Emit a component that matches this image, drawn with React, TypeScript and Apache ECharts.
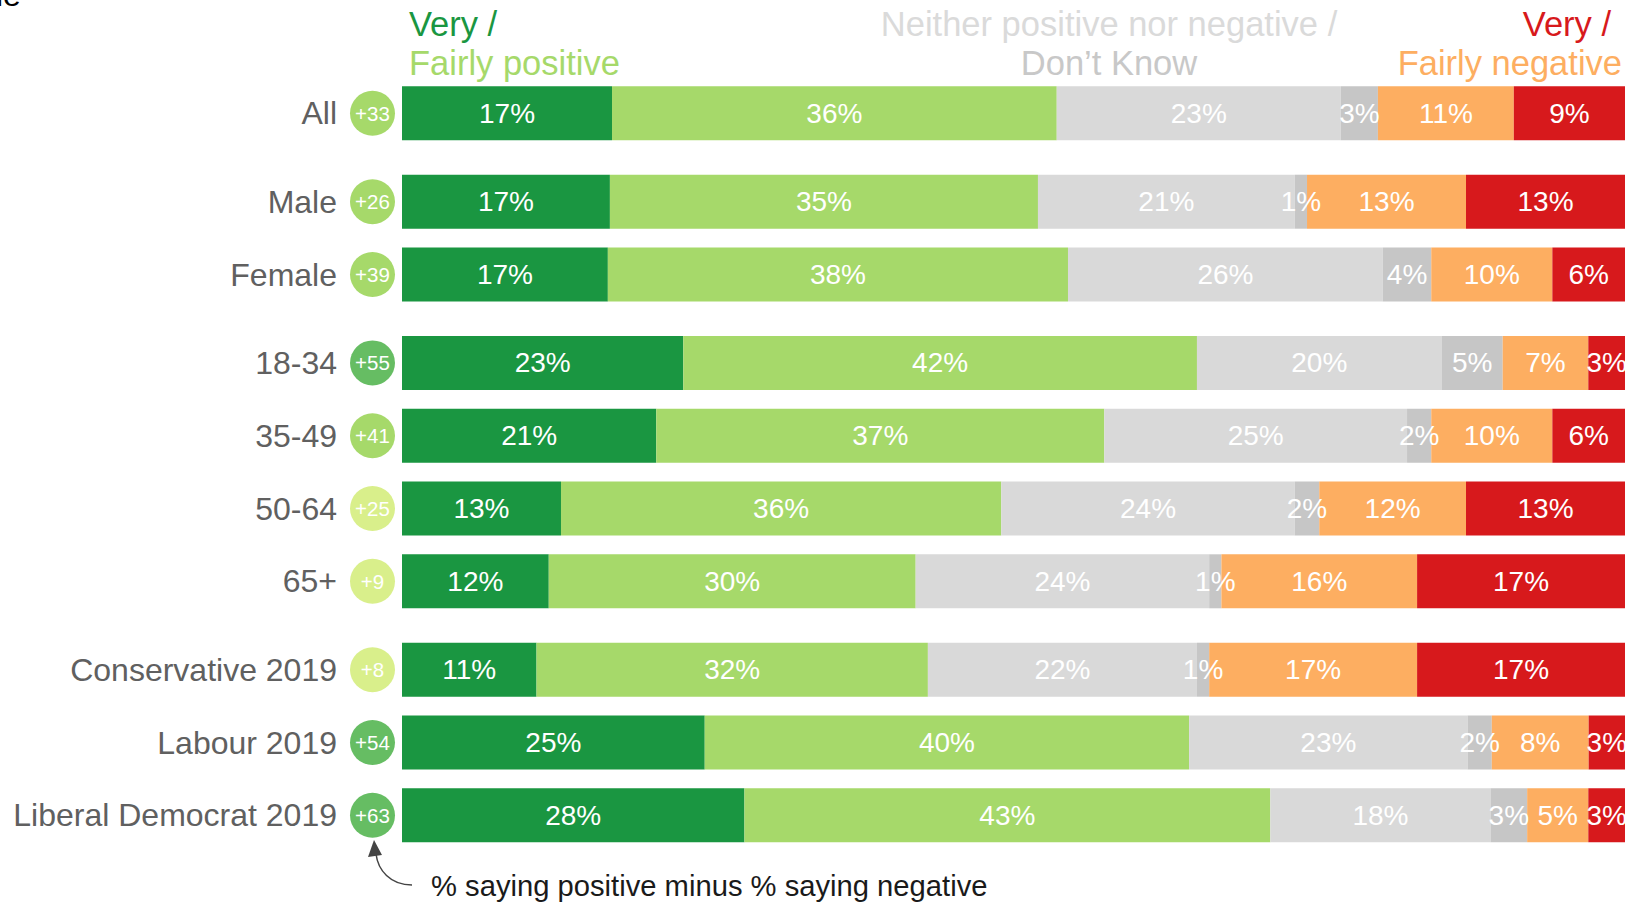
import { useEffect, useRef } from 'react';
import * as echarts from 'echarts';

const categories = ['All', 'Male', 'Female', '18-34', '35-49', '50-64', '65+', 'Conservative 2019', 'Labour 2019', 'Liberal Democrat 2019'];
const groupSizes = [1, 2, 4, 3];
const veryPositive = [17, 17, 17, 23, 21, 13, 12, 11, 25, 28];
const fairlyPositive = [36, 35, 38, 42, 37, 36, 30, 32, 40, 43];
const neither = [23, 21, 26, 20, 25, 24, 24, 22, 23, 18];
const dontKnow = [3, 1, 4, 5, 2, 2, 1, 1, 2, 3];
const fairlyNegative = [11, 13, 10, 7, 10, 12, 16, 17, 8, 5];
const veryNegative = [9, 13, 6, 3, 6, 13, 17, 17, 3, 3];
const netScore = [33, 26, 39, 55, 41, 25, 9, 8, 54, 63];

const segmentNames = ['Very positive', 'Fairly positive', 'Neither', "Don't know", 'Fairly negative', 'Very negative'];
const segmentValues = [veryPositive, fairlyPositive, neither, dontKnow, fairlyNegative, veryNegative];
const segmentColors = ['#1a9641', '#a6d96a', '#d9d9d9', '#c6c6c6', '#fdae61', '#d7191c'];

const FONT = '"Liberation Sans", Arial, sans-serif';

export default function App() {
  const ref = useRef<HTMLDivElement>(null);
  useEffect(() => {
    document.body.style.margin = '0';
    document.body.style.overflow = 'hidden';
    const chart = echarts.init(ref.current as HTMLDivElement, null, { renderer: 'svg' });

    const rowStep = 72.8;
    const groupGap = 15.6;
    const firstTop = 113.3 - rowStep / 2;

    const totals = categories.map((_, i) => segmentValues.reduce((s, arr) => s + arr[i], 0));
    const netClass = (v: number) => (v >= 50 ? 'hi' : v > 25 ? 'mid' : 'lo');

    const grids: any[] = [];
    const xAxes: any[] = [];
    const yAxes: any[] = [];
    const series: any[] = [];

    let start = 0;
    groupSizes.forEach((size, g) => {
      const top = firstTop + start * rowStep + g * groupGap;
      const idx = Array.from({ length: size }, (_, k) => start + k);
      grids.push({ left: 402, right: 5, top, height: size * rowStep, containLabel: false, outerBoundsMode: 'none' });
      xAxes.push({ gridIndex: g, type: 'value', min: 0, max: 100, show: false });
      yAxes.push({
        gridIndex: g,
        type: 'category',
        inverse: true,
        data: idx.map((i) => categories[i]),
        axisLine: { show: false },
        axisTick: { show: false },
        splitLine: { show: false },
        axisLabel: {
          margin: 7,
          formatter: (value: string) => {
            const i = categories.indexOf(value);
            const n = netScore[i];
            return `{n|${value}}{${netClass(n)}|${n >= 0 ? '+' : ''}${n}}`;
          },
          rich: {
            n: { fontSize: 32, color: '#606060', fontFamily: FONT, padding: [0, 13, 0, 0] },
            hi: { width: 45, height: 45, lineHeight: 45, borderRadius: 23, backgroundColor: '#66bd63', color: '#fff', fontSize: 20.5, fontFamily: FONT, align: 'center' },
            mid: { width: 45, height: 45, lineHeight: 45, borderRadius: 23, backgroundColor: '#a6d96a', color: '#fff', fontSize: 20.5, fontFamily: FONT, align: 'center' },
            lo: { width: 45, height: 45, lineHeight: 45, borderRadius: 23, backgroundColor: '#d9ef8b', color: '#fff', fontSize: 20.5, fontFamily: FONT, align: 'center' },
          },
        },
      });
      segmentValues.forEach((arr, s) => {
        series.push({
          name: segmentNames[s],
          type: 'bar',
          xAxisIndex: g,
          yAxisIndex: g,
          stack: 'g' + g,
          barWidth: 54,
          itemStyle: { color: segmentColors[s] },
          data: idx.map((i) => (arr[i] / totals[i]) * 100),
          label: {
            show: true,
            position: 'inside',
            color: '#fff',
            fontSize: 28,
            fontFamily: FONT,
            formatter: (p: any) => `${arr[idx[p.dataIndex]]}%`,
          },
          emphasis: { disabled: true },
        });
      });
      start += size;
    });

    const option: any = {
      animation: false,
      backgroundColor: '#ffffff',
      grid: grids,
      xAxis: xAxes,
      yAxis: yAxes,
      series,
      graphic: [
        { type: 'text', left: -4, top: -21, style: { text: 'le', fontSize: 32, fill: '#000', fontFamily: FONT } },
        { type: 'text', x: 409, y: 24, style: { text: 'Very /', fontSize: 34.5, fill: '#1a9641', fontFamily: FONT, textAlign: 'left', textVerticalAlign: 'middle' } },
        { type: 'text', x: 409, y: 63, style: { text: 'Fairly positive', fontSize: 34.5, fill: '#a6d96a', fontFamily: FONT, textAlign: 'left', textVerticalAlign: 'middle' } },
        { type: 'text', x: 1109, y: 24, style: { text: 'Neither positive nor negative /', fontSize: 34.5, fill: '#dadada', fontFamily: FONT, textAlign: 'center', textVerticalAlign: 'middle' } },
        { type: 'text', x: 1109, y: 63, style: { text: 'Don\u2019t Know', fontSize: 34.5, fill: '#c8c8c8', fontFamily: FONT, textAlign: 'center', textVerticalAlign: 'middle' } },
        { type: 'text', x: 1611, y: 24, style: { text: 'Very /', fontSize: 34.5, fill: '#d7191c', fontFamily: FONT, textAlign: 'right', textVerticalAlign: 'middle' } },
        { type: 'text', x: 1622, y: 63, style: { text: 'Fairly negative', fontSize: 34.5, fill: '#fdae61', fontFamily: FONT, textAlign: 'right', textVerticalAlign: 'middle' } },
        { type: 'text', x: 431, y: 886, style: { text: '% saying positive minus % saying negative', fontSize: 29.2, fill: '#1a1a1a', fontFamily: FONT, textAlign: 'left', textVerticalAlign: 'middle' } },
        {
          type: 'bezierCurve',
          shape: { x1: 412, y1: 885, cpx1: 390, cpy1: 885, cpx2: 378, cpy2: 870, x2: 376, y2: 854 },
          style: { stroke: '#444', lineWidth: 1.5, fill: 'none' },
        },
        {
          type: 'polygon',
          shape: { points: [[374, 840], [368, 857], [382, 855]] },
          style: { fill: '#444' },
        },
      ],
    };
    chart.setOption(option);
    return () => chart.dispose();
  }, []);
  return <div ref={ref} style={{ width: 1630, height: 904 }} />;
}
